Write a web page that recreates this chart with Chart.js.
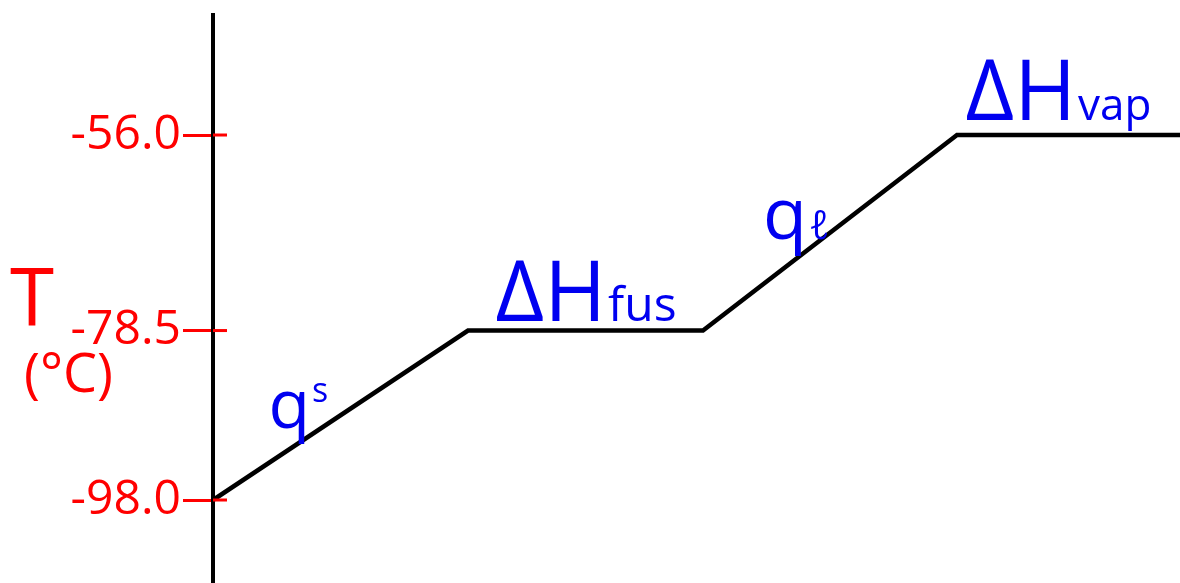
<!DOCTYPE html>
<html lang="en">

<head>
    <meta charset="UTF-8" />
    <title>Heating curve</title>
    <script src="https://cdn.jsdelivr.net/npm/chart.js"></script>
    <style>
        html, body { margin: 0; padding: 0; background: #fff; }
        #wrap { width: 1180px; height: 583px; }
    </style>
</head>

<body>
    <div id="wrap"><canvas id="chart"></canvas></div>
    <script>
        // heat added (arbitrary units) and temperature in degrees C
        const heat = [0, 2.55, 4.9, 7.44, 9.67];
        const temps = [-98.0, -78.5, -78.5, -56.0, -56.0];
        const tickValues = [-98.0, -78.5, -56.0];
        const axisTitle = ["T", "(°C)"];
        // one note per segment of the curve
        const noteMain = ["q", "ΔH", "q", "ΔH"];
        const noteSub = ["s", "fus", "ℓ", "vap"];

        const RED = "#ff0000";
        const BLUE = "#0000f0";

        const notesPlugin = {
            id: "notes",
            afterDraw(chart) {
                const ctx = chart.ctx;
                const y = chart.scales.y;
                const pts = chart.getDatasetMeta(0).data;

                ctx.save();
                // little overhang of the tick marks right of the axis
                ctx.strokeStyle = RED;
                ctx.lineWidth = 3;
                tickValues.forEach((v) => {
                    const py = y.getPixelForValue(v);
                    ctx.beginPath();
                    ctx.moveTo(213, py);
                    ctx.lineTo(227, py);
                    ctx.stroke();
                });

                // axis title, written upright
                ctx.fillStyle = RED;
                ctx.textBaseline = "alphabetic";
                ctx.textAlign = "left";
                ctx.font = "80px 'Open Sans'";
                ctx.fillText(axisTitle[0], 10, 326);
                ctx.font = "54px 'Open Sans'";
                ctx.fillText(axisTitle[1], 24, 392);

                // blue notes on each segment
                const offs = [
                    { dx: -72, dy: 13, big: 68, small: 34, rise: -26 },
                    { dx: -90, dy: -10, big: 84, small: 48, rise: 0 },
                    { dx: -67, dy: 6, big: 72, small: 40, rise: 0 },
                    { dx: -103, dy: -15, big: 84, small: 44, rise: 0 },
                ];
                ctx.fillStyle = BLUE;
                noteMain.forEach((txt, i) => {
                    const a = pts[i], b = pts[i + 1];
                    const mx = (a.x + b.x) / 2, my = (a.y + b.y) / 2;
                    const o = offs[i];
                    const x0 = mx + o.dx, y0 = my + o.dy;
                    ctx.font = o.big + "px 'Open Sans'";
                    ctx.fillText(txt, x0, y0);
                    const w = ctx.measureText(txt).width;
                    ctx.font = o.small + "px 'Open Sans'";
                    ctx.fillText(noteSub[i], x0 + w + 2, y0 + o.rise);
                });
                ctx.restore();
            },
        };

        const ctx = document.getElementById("chart").getContext("2d");
        const myChart = new Chart(ctx, {
            type: "line",
            data: {
                datasets: [
                    {
                        data: heat.map((h, i) => ({ x: h, y: temps[i] })),
                        borderColor: "#000",
                        borderWidth: 4.5,
                        pointRadius: 0,
                        tension: 0,
                        fill: false,
                    },
                ],
            },
            options: {
                responsive: true,
                maintainAspectRatio: false,
                animation: false,
                layout: { padding: { top: 15, right: 0, bottom: 0, left: 0 } },
                plugins: {
                    legend: { display: false },
                    tooltip: { enabled: false },
                },
                scales: {
                    x: {
                        type: "linear",
                        min: 0,
                        max: 9.67,
                        display: false,
                    },
                    y: {
                        type: "linear",
                        min: -107.55,
                        max: -42.19,
                        afterBuildTicks: (scale) => {
                            scale.ticks = tickValues.map((v) => ({ value: v }));
                        },
                        afterFit: (scale) => {
                            scale.width = 213;
                            // labels sit well inside, so no extra room above/below
                            scale.paddingTop = 0;
                            scale.paddingBottom = 0;
                        },
                        border: { display: true, color: "#000", width: 4 },
                        grid: {
                            drawOnChartArea: false,
                            drawTicks: true,
                            tickLength: 30,
                            color: RED,
                            lineWidth: 3,
                        },
                        ticks: {
                            color: RED,
                            padding: 2,
                            font: { family: "'Open Sans'", size: 48 },
                            callback: (v) => Number(v).toFixed(1),
                        },
                    },
                },
            },
            plugins: [notesPlugin],
        });
    </script>
</body>

</html>
